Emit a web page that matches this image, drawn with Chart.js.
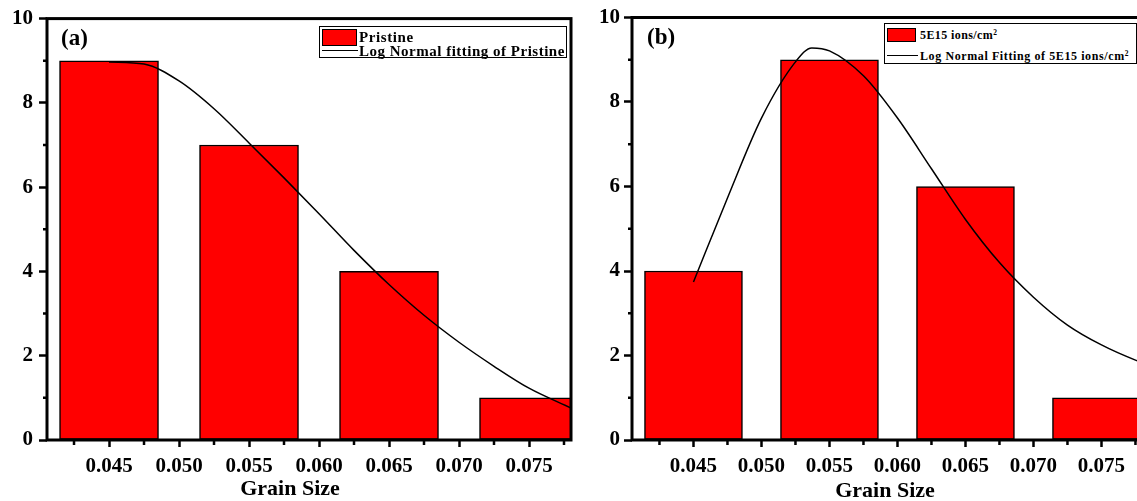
<!DOCTYPE html>
<html>
<head>
<meta charset="utf-8">
<script src="https://cdn.jsdelivr.net/npm/chart.js@4.4.1/dist/chart.umd.min.js"></script>
<style>
html,body{margin:0;padding:0;background:#fff;overflow:hidden;width:1137px;height:501px;}
canvas{position:absolute;top:0;}
.t{position:absolute;font-family:"Liberation Serif","Times New Roman",serif;font-weight:bold;color:#000;white-space:nowrap;}
.box{position:absolute;border:1.5px solid #000;box-sizing:border-box;background:#fff;}
.sw{position:absolute;background:#ff0000;border:1.5px solid #000;box-sizing:border-box;}
.ln{position:absolute;background:#000;height:1.5px;}
sup{font-size:0.62em;vertical-align:0.5em;line-height:0;}
</style>
</head>
<body>
<canvas id="c1" width="580" height="501" style="left:0px;width:580px;height:501px;"></canvas>
<canvas id="c2" width="580" height="501" style="left:585px;width:580px;height:501px;"></canvas>

<div class="t" style="left:61px;top:26px;font-size:23px;line-height:23px;">(a)</div>
<div class="t" style="left:647px;top:25px;font-size:23px;line-height:23px;">(b)</div>

<div class="box" style="left:319px;top:26px;width:248px;height:32px;"></div>
<div class="sw" style="left:322px;top:28.5px;width:35px;height:17px;"></div>
<div class="t" style="left:359px;top:30px;font-size:15px;line-height:15px;letter-spacing:0.6px;">Pristine</div>
<div class="ln" style="left:322px;top:49.5px;width:36px;"></div>
<div class="t" style="left:359px;top:44px;font-size:15px;line-height:15px;letter-spacing:0.5px;">Log Normal fitting of Pristine</div>

<div class="box" style="left:884px;top:23px;width:253px;height:41px;"></div>
<div class="sw" style="left:887px;top:28px;width:29px;height:14px;"></div>
<div class="t" style="left:920px;top:29px;font-size:12px;line-height:12px;letter-spacing:0.4px;">5E15 ions/cm<sup>2</sup></div>
<div class="ln" style="left:887px;top:54.5px;width:31px;"></div>
<div class="t" style="left:920px;top:50px;font-size:12px;line-height:12px;letter-spacing:0.6px;">Log Normal Fitting of 5E15 ions/cm<sup>2</sup></div>

<div class="t" style="left:190px;top:477px;width:200px;text-align:center;font-size:22px;line-height:22px;">Grain Size</div>
<div class="t" style="left:785px;top:479px;width:200px;text-align:center;font-size:22px;line-height:22px;">Grain Size</div>

<script>
// ---- data ----
const binCenters = [0.045, 0.055, 0.065, 0.075];
const pristineCounts = [9, 7, 4, 1];
const irradiatedCounts = [4, 9, 6, 1];

const pristineFitX = [0.045, 0.0475, 0.050, 0.0525, 0.055, 0.0575, 0.060, 0.0625, 0.065, 0.0675, 0.070, 0.0725, 0.075, 0.078];
const pristineFitY = [8.97, 8.92, 8.52, 7.86, 7.05, 6.22, 5.37, 4.50, 3.69, 2.96, 2.32, 1.75, 1.23, 0.76];

const irradiatedFitX = [0.045, 0.0475, 0.050, 0.0525, 0.0537, 0.055, 0.0575, 0.060, 0.0625, 0.065, 0.0675, 0.070, 0.0725, 0.075, 0.0775, 0.079];
const irradiatedFitY = [3.74, 5.73, 7.62, 8.95, 9.28, 9.21, 8.62, 7.62, 6.42, 5.22, 4.20, 3.38, 2.72, 2.25, 1.89, 1.72];

const xMajorTicks = [0.045, 0.050, 0.055, 0.060, 0.065, 0.070, 0.075];
const xMinorTicks = [0.0425, 0.0475, 0.0525, 0.0575, 0.0625, 0.0675, 0.0725, 0.0775];
const yMajorTicks = [0, 2, 4, 6, 8, 10];
const yMinorTicks = [1, 3, 5, 7, 9];

Chart.defaults.font.family = "'Liberation Serif','Times New Roman',serif";
Chart.defaults.font.weight = 'bold';
Chart.defaults.font.size = 20;
Chart.defaults.color = '#000';

const framePlugin = {
  id: 'frame',
  afterDatasetsDraw(chart) {
    const ctx = chart.ctx, a = chart.chartArea;
    const xs = chart.scales.x, ys = chart.scales.y;
    ctx.save();
    ctx.strokeStyle = '#000';
    ctx.lineWidth = 2.5;
    ctx.beginPath();
    xMinorTicks.forEach(v => {
      const px = xs.getPixelForValue(v);
      if (px < a.left || px > a.right) return;
      ctx.moveTo(px, a.bottom); ctx.lineTo(px, a.bottom + 5);
    });
    yMinorTicks.forEach(v => {
      const py = ys.getPixelForValue(v);
      ctx.moveTo(a.left, py); ctx.lineTo(a.left - 4, py);
    });
    ctx.stroke();
    ctx.lineWidth = 3;
    ctx.strokeRect(a.left, a.top, a.right - a.left, a.bottom - a.top);
    ctx.restore();
  }
};

function makeChart(id, counts, fitX, fitY, xMin, xMax, barPx, yPad) {
  const bars = binCenters.map((x, i) => ({x: x, y: counts[i]}));
  const fit = fitX.map((x, i) => ({x: x, y: fitY[i]}));
  return new Chart(document.getElementById(id), {
    type: 'bar',
    data: {
      datasets: [
        {
          type: 'line', data: fit, borderColor: '#000', borderWidth: 1.5,
          pointRadius: 0, fill: false, cubicInterpolationMode: 'monotone', order: 0
        },
        {
          type: 'bar', data: bars, backgroundColor: '#ff0000', borderColor: '#000',
          borderWidth: 1.5, borderSkipped: false, barThickness: barPx, order: 1
        }
      ]
    },
    options: {
      responsive: false, animation: false, devicePixelRatio: 1,
      layout: {padding: {top: 17.5, right: 9, left: 0, bottom: 0}},
      plugins: {legend: {display: false}, tooltip: {enabled: false}},
      scales: {
        x: {
          type: 'linear', min: xMin, max: xMax, offset: false,
          afterFit: (ax) => { ax.height = 61; },
          afterBuildTicks: (ax) => { ax.ticks = xMajorTicks.map(v => ({value: v})); },
          grid: {display: true, offset: false, drawOnChartArea: false, drawTicks: true, tickLength: 7, tickWidth: 2.5, tickColor: '#000'},
          border: {display: false},
          ticks: {padding: 7, autoSkip: false, maxRotation: 0, callback: (v) => Number(v).toFixed(3), font: {size: 21, weight: 'bold'}}
        },
        y: {
          type: 'linear', min: 0, max: 10,
          afterFit: (ax) => { ax.width = 47; },
          afterBuildTicks: (ax) => { ax.ticks = yMajorTicks.map(v => ({value: v})); },
          grid: {display: true, drawOnChartArea: false, drawTicks: true, tickLength: 8, tickWidth: 2.5, tickColor: '#000'},
          border: {display: false},
          ticks: {padding: yPad, callback: (v) => String(v), font: {size: 21, weight: 'bold'}}
        }
      }
    },
    plugins: [framePlugin]
  });
}

makeChart('c1', pristineCounts, pristineFitX, pristineFitY, 0.04057, 0.07800, 99, 6);
makeChart('c2', irradiatedCounts, irradiatedFitX, irradiatedFitY, 0.04048, 0.07901, 98, 4);
</script>
</body>
</html>
